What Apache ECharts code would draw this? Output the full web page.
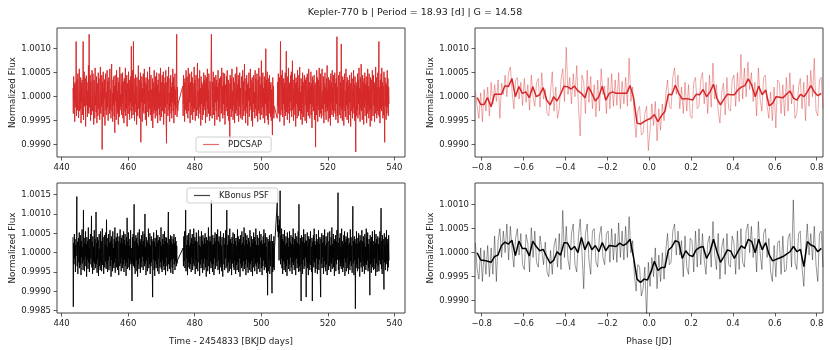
<!DOCTYPE html>
<html>
<head>
<meta charset="utf-8">
<script src="https://cdn.jsdelivr.net/npm/echarts@6/dist/echarts.min.js"></script>
<style>
html, body { margin: 0; padding: 0; background: #fff; }
#chart { width: 830px; height: 350px; }
</style>
</head>
<body>
<div id="chart"></div>
<script>
// flux values are offsets from 1.0, in units of 1e-5
const titleText = 'Kepler-770 b | Period = 18.93 [d] | G = 14.58';

const pdcsapSegments = [[443.4, 475.0], [476.4, 503.9], [504.8, 538.4]];
const pdcsapSeg1 = [
  18,-35,42,-8,25,-52,30,5,-22,115,-40,12,36,-28,48,-15,-44,22,58,-30,
  10,-25,40,-55,28,-12,35,-38,20,115,-48,15,52,-20,-5,38,-62,25,44,-18,
  30,-42,12,-28,65,-35,130,-22,8,45,-50,32,-15,-38,55,20,-30,48,-10,-58,
  35,22,-45,60,-18,5,-32,42,-55,28,15,-40,50,-25,38,-8,-48,26,62,-35,
  12,-20,45,-110,30,-15,52,-42,18,-5,36,-60,24,48,-28,10,-38,55,-22,32,
  -50,20,40,-12,-35,58,-25,15,-45,30,68,-30,8,-52,35,-18,42,-40,22,-75,
  45,-10,28,-48,55,-22,12,-35,40,-58,30,18,-42,62,-28,5,-20,48,-38,25,
  -15,50,-45,32,-8,-55,38,22,-30,60,-40,14,-25,45,-62,28,10,-36,52,-18,
  35,-48,20,-12,42,-30,105,-45,25,-20,55,-38,115,-28,10,-50,38,-15,46,-32,
  22,-58,40,-8,-40,30,65,-25,15,-45,35,-20,50,-95,28,-12,42,-52,18,-30,
  48,-22,-35,58,-15,30,-48,20,40,-60,25,-10,52,-32,12,-42,36,-25,62,-18,
  -38,28,45,-50,15,-22,38,-65,30,8,-35,55,-28,20,-45,42,-12,-30,50,-40,
  25,-55,35,18,-25,48,-38,10,-50,60,-20,30,-42,22,45,-30,-8,52,-58,28,
  15,-35,40,-22,55,-48,-97,30,-15,42,-40,25,62,-28,8,-52,38,-20,45,-35,
  20,-45,30,-12,58,-30,40,-55,22,-18,48,-38,15,-25,35,130,-42,20,-30,-15];
const pdcsapSeg2 = [
  22,-40,45,-15,30,-52,38,-8,-28,55,-35,18,42,-22,-45,60,-30,25,-12,48,
  -55,30,15,-38,52,-20,40,-48,28,-10,-32,62,-25,35,-50,20,45,-18,-40,30,
  70,-28,12,-45,38,-22,55,-35,18,-60,42,-15,30,-48,25,8,-38,50,-28,35,
  -20,45,-55,28,-10,40,-42,58,-25,15,-35,48,-18,-50,32,22,-40,65,130,12,
  -45,30,-22,52,-38,18,40,-60,25,-12,45,-30,35,-48,20,-8,55,-42,28,-25,
  38,-52,15,42,-20,-35,60,-28,22,-45,50,-15,30,-38,48,-58,25,10,-30,42,
  -22,55,-40,18,35,-50,28,-12,-100,45,-25,38,-42,20,58,-30,12,-48,40,-18,
  30,-55,22,48,-35,15,-28,62,-40,25,-10,45,-52,35,-20,50,-38,18,-45,28,
  42,-25,-48,55,-15,32,-40,20,68,-30,12,-55,38,-22,45,-35,25,-60,30,-8,
  50,-42,18,-28,58,-20,35,-50,22,40,-62,28,-15,45,-32,10,-45,55,-25,38,
  -40,20,48,-18,-52,35,-28,60,-35,15,42,-48,25,-12,75,-38,30,-22,50,-45,
  18,-30,42,-55,28,-15,100,-40,35,-25,52,-48,20,-58,38,-10,45,-35,25,-42,
  30,-50,15,-28,-80,40,-35,22,-45,-20];
const pdcsapSeg3 = [
  -45,30,-20,48,-35,15,40,-52,22,115,-38,10,45,-28,55,-42,20,-15,38,-60,
  28,-25,50,-40,12,95,-32,18,-48,42,-20,60,-35,25,-55,30,-10,45,-30,52,
  -42,20,75,-28,35,-50,15,-22,48,-38,28,-62,40,-15,30,-45,55,-20,18,-40,
  45,-30,62,-25,10,-48,38,-35,22,-58,50,-12,30,-42,25,45,-28,-50,35,-18,
  40,-55,20,48,-32,15,-40,58,-25,30,-45,22,-15,52,-38,28,-65,42,-20,35,
  -30,18,45,-48,25,-12,-105,30,-38,55,-20,40,-52,15,35,-28,60,-42,22,-35,
  48,-18,-45,30,58,-25,12,-40,42,-55,28,-15,50,-32,20,-48,38,-22,65,-30,
  15,-52,40,-20,35,-45,25,-60,48,-12,30,-38,55,-28,18,-42,45,-30,22,50,
  -35,28,-48,38,-15,125,-40,20,-55,32,45,-25,-38,52,-20,30,-45,110,-28,15,
  -50,42,-22,35,-60,25,48,-30,12,-42,58,-18,30,-48,40,-25,22,-55,35,-12,
  45,-38,28,-62,20,50,-30,15,-45,38,-22,55,-35,25,-50,42,-18,-115,30,-40,
  22,-28,48,-45,35,-15,60,-38,18,-52,40,-25,68,-30,12,-48,45,-20,30,-58,
  38,-22,50,-40,25,-12,42,-55,30,-35,58,-18,22,-45,48,-30,15,-62,40,-25,
  35,-50,20,55,-28,-40,45,-18,30,-52,25,-35,62,-22,40,-45,18,-30,50,-38,
  28,115,-42,20,-55,35,-25,48,-30,60,-18,30,-45,22,-38,52,-28,-95,40,-20,
  30,-48,25,-35,55,-22,38,-40,20,-15];

const kbonusSegments = [[443.4, 474.8], [476.5, 504.0], [504.8, 538.4]];
const kbonusSeg1 = [
  40,-140,25,-30,48,-15,35,-50,20,-8,42,145,-35,28,-55,12,38,-25,52,-40,
  18,-32,45,-58,30,-12,60,-28,15,-45,110,-20,38,-48,25,-10,55,-35,22,-62,
  40,-18,30,-42,65,-25,12,-50,35,-30,48,-15,20,95,-38,28,-55,42,-22,15,
  -45,58,-28,35,-12,-40,105,-30,25,-52,40,-18,32,-60,22,48,-35,10,-45,55,
  -25,30,-48,18,62,-32,40,-15,-55,28,45,-38,20,-22,52,-42,85,-28,15,-50,
  38,-20,48,-45,25,-10,58,-35,30,-62,42,-18,22,-48,55,-30,12,-40,35,-25,
  65,-52,28,-15,40,-38,20,50,-45,30,-22,-58,42,15,-35,60,-28,25,-48,38,
  -12,45,-40,22,-30,55,-50,32,-18,48,-35,20,-60,40,-25,90,-42,28,-15,52,
  -38,18,-45,35,-22,58,-30,12,-50,-125,40,-28,48,-35,22,125,-40,30,-55,15,
  45,-20,38,-48,25,-62,52,-30,18,-42,60,-15,35,-52,28,-25,45,-38,20,-10,
  55,-45,30,-22,48,-35,100,-28,15,-58,40,-20,32,-48,25,-12,62,-40,22,-30,
  50,-55,18,-35,42,-25,35,-42,-115,30,-18,52,-45,28,-60,38,-22,15,-40,58,
  -30,25,-48,45,-15,32,-55,20,40,-38,28,-25,65,-42,18,-50,35,-20,48,-35,
  22,-45,55,-28,30,-58,40,-12,38,-35,25,-48,50,105,-30,20,-42,35,-25,45,
  -52,28,-18,42,-38,22,-55,35,-15,48,-30,25,-45,40,-22,30,-35,18,-28,-20];
const kbonusSeg2 = [
  12,-35,42,-22,55,-40,28,110,-48,20,-15,45,-58,32,-25,50,-38,18,-42,60,
  -30,25,-50,38,-12,48,-45,22,-28,62,-35,15,40,-55,30,-20,52,-42,28,-10,
  -48,35,58,-25,20,-60,42,-30,15,-40,55,-18,30,-52,45,-28,22,-45,38,-15,
  50,-38,25,-62,40,-20,32,-48,18,65,-35,28,-55,42,-22,30,-40,135,-28,20,
  -50,45,-30,22,-58,38,-15,52,-42,28,-25,48,-35,15,60,-45,30,-20,42,-55,
  25,-38,55,-28,18,-48,40,-22,-62,35,50,-30,22,-45,38,-15,58,-40,28,110,
  -35,20,-52,45,-25,30,-48,62,-18,35,-42,25,-58,40,-28,15,52,-38,22,-45,
  48,-20,30,-55,38,-32,18,-45,60,-25,42,-50,28,-15,35,-62,45,-28,20,-40,
  55,-35,25,-48,40,-22,65,-42,18,-30,50,-58,32,-18,45,-38,22,-52,38,-25,
  28,-45,58,-30,15,-50,42,-22,35,-60,25,-38,52,-15,40,-48,30,-28,62,-35,
  20,-55,45,-25,38,-42,18,-30,55,-50,28,-12,48,-40,32,-58,22,-35,42,-20,
  60,-45,25,-30,50,-38,15,-52,40,-25,-110,35,-48,28,-18,45,-55,30,-35,22,
  48,-42,-105,30,-50,25,-38,42,-45,15];
const kbonusSeg3 = [
  130,55,95,40,70,-20,85,50,160,-30,45,-15,62,-40,35,-55,48,-22,30,-45,
  58,-28,20,-50,42,-35,25,-60,52,-18,38,-42,15,-30,55,-48,28,-12,45,-38,
  22,-55,40,-25,62,-32,18,-45,35,-20,50,-58,30,-15,42,-40,25,-28,55,-50,
  125,-35,20,-48,38,-22,-125,45,-30,28,-55,40,-18,60,-42,25,-35,48,-12,32,
  -115,30,-25,52,-40,18,-58,42,-28,35,-45,22,55,-32,15,-50,38,-125,28,-20,
  45,-38,62,-25,30,-52,20,-42,48,-15,35,-55,28,-30,58,-45,22,-18,40,-62,
  -115,35,-28,50,-40,25,-12,45,-55,30,-22,60,-38,18,-48,42,-30,25,-58,38,
  52,-20,-45,30,-35,55,-25,18,-50,40,-28,65,-42,22,-15,48,-38,30,-60,35,
  -22,45,-48,28,-30,58,-18,40,155,-45,25,-55,38,-20,50,-35,15,-42,62,-28,
  30,-50,22,-38,45,-15,55,-60,28,-25,42,-48,35,-12,52,-40,20,-55,38,-30,
  25,-45,60,-22,40,-35,18,-52,48,120,-28,30,-58,42,-20,35,-145,25,-40,55,
  -30,22,-48,38,-15,50,-42,28,-62,45,-25,32,-38,18,58,-50,30,-22,42,-35,
  25,-55,48,-28,15,-45,62,-32,38,-20,52,-48,22,-40,35,-18,-110,45,-30,28,
  -52,40,-25,55,-38,20,-45,30,-15,58,-42,25,-60,48,-28,35,-50,18,42,-35,
  22,-48,38,-20,55,-30,28,115,-42,30,-55,45,-18,35,-38,-95,50,-25,20,-45,
  40,-30,58,-22,35,-48,25,-38,45,-20];

// phase folded, raw (200 points) and binned (100 bins) over phase -0.83 .. 0.83
const phaseRange = [-0.83, 0.83];
const pdcsapFolded = [12,-20,-45,8,-52,15,-30,20,-40,30, -15,25,-10,35,-45,28,5,45,0,50,
  62,10,-25,35,40,-5,30,-18,38,-12, 25,-28,45,0,-20,30,38,-22,50,-5,
  15,-35,-40,10,52,-30,20,-45,-25,35, 58,-10,103,5,40,-15,48,0,65,-20,
  -82,45,30,-35,55,-12,42,-25,25,-42, 35,-30,58,5,22,-35,40,-25,48,-20,
  35,-18,50,-25,32,-15,40,-20,80,-10, 20,-45,-85,-30,-20,-80,-75,-35,-20,-112,
  -70,-15,-60,-10,-92,-25,-70,-15,-50,5, 35,-20,-25,40,60,5,45,-25,20,-35,
  30,-30,25,-40,-45,30,40,-25,-20,35, 50,-15,30,-35,45,-22,70,-5,25,-30,
  -55,10,28,-38,40,-25,-30,35,45,-20, 50,-10,88,-5,60,0,72,15,50,-10,
  30,-40,60,-5,-30,40,45,-20,-45,10, -50,20,-65,35,30,-35,25,-40,40,-30,
  50,-15,25,-45,-35,20,38,-25,30,-50, 45,-20,55,0,80,-30,-40,35,40,-25];
const pdcsapBinned = [-2,-16,-16,-2,-21,5,5,5,23,21, 38,0,21,7,10,-2,21,0,4,19,
  -7,-17,0,-9,5,22,21,16,22,12, 7,-2,21,7,-9,0,22,-7,7,10,
  7,7,7,7,23,-2,-55,-57,-52,-48, -45,-37,-52,-40,-31,5,4,24,7,-5,
  -4,-5,-7,5,4,15,0,10,26,-4, -17,-5,5,4,4,14,20,23,37,24,
  0,22,4,14,-19,-14,0,-1,-2,5, 12,-3,-7,5,0,10,23,10,2,7];
const kbonusFolded = [20,-35,-55,10,-60,5,-45,15,-50,10, -45,35,-60,25,50,-10,45,0,60,-15,
  55,5,-30,30,50,-5,40,-25,-35,38, 20,-40,52,-10,45,-20,-30,35,35,-25,
  22,-40,-50,5,-45,15,30,-30,40,-35, 88,-10,55,-15,-35,40,60,-25,-40,35,
  70,0,-75,40,60,-15,-45,45,50,-20, -30,35,55,-10,-25,40,45,-20,50,-15,
  40,-20,62,-10,45,-15,55,-10,75,0, 25,-45,-80,-25,-30,-90,-75,-30,-135,-20,
  -70,-10,-50,10,-75,-5,-60,0,-55,5, 40,-25,-20,45,60,-5,45,-5,25,-50,
  35,-30,-45,30,25,-40,45,-30,50,-25, 40,-15,-45,20,35,-30,65,-5,-35,40,
  -55,10,30,-45,40,-25,-30,35,20,-45, 45,-35,50,-20,-30,45,60,0,55,-10,
  30,-40,65,0,-35,40,50,-10,30,-40, -60,15,-50,20,25,-45,35,-40,-35,30,
  40,-30,110,-20,-35,40,45,-30,-70,5, 60,-5,40,-15,55,-25,-60,40,45,-30];
const kbonusBinned = [0,-15,-16,-18,-20,-8,-5,15,22,18, 26,-6,24,9,9,-7,24,13,4,7,
  -8,-22,-16,2,-5,21,20,6,13,0, 32,6,23,6,15,2,21,4,15,14,
  13,20,15,19,28,-10,-55,-62,-55,-57, -40,-18,-37,-31,-31,5,12,25,22,-12,
  4,-5,-8,6,11,13,-12,2,28,2, -20,-8,6,3,-12,2,14,9,28,23,
  0,28,6,21,-4,-17,-14,-11,-8,-3, 2,13,2,7,-29,23,16,13,2,9];

// tick labels
const timeTicks = [440, 460, 480, 500, 520, 540];
const phaseTicks = [-0.8, -0.6, -0.4, -0.2, 0.0, 0.2, 0.4, 0.6, 0.8];
const fluxTicksTop = [0.9990, 0.9995, 1.0000, 1.0005, 1.0010];
const fluxTicksLC2 = [0.9985, 0.9990, 0.9995, 1.0000, 1.0005, 1.0010, 1.0015];

function toFlux(v) { return 1 + v * 1e-5; }

function timeSeries(segs, parts) {
  const out = [];
  parts.forEach((vals, k) => {
    const a = segs[k][0], b = segs[k][1], n = vals.length;
    vals.forEach((v, i) => out.push([a + (b - a) * i / (n - 1), toFlux(v)]));
  });
  return out;
}
function foldedSeries(vals) {
  const n = vals.length, lo = phaseRange[0], hi = phaseRange[1];
  return vals.map((v, i) => [lo + (hi - lo) * i / (n - 1), toFlux(v)]);
}
function binnedSeries(vals) {
  const n = vals.length, lo = phaseRange[0], w = (phaseRange[1] - phaseRange[0]) / n;
  return vals.map((v, i) => [lo + (i + 0.5) * w, toFlux(v)]);
}

const font = 'DejaVu Sans';
const txt = '#222';
const minus = s => s.replace('-', '\u2212');

function xAxis(idx, min, max, ticks, fmt, name) {
  return {
    type: 'value', gridIndex: idx, min: min, max: max,
    axisLine: { show: false, onZero: false },
    splitLine: { show: false },
    axisTick: { show: true, length: 3.5, lineStyle: { color: '#333', width: 0.8 }, customValues: ticks },
    axisLabel: { customValues: ticks, margin: 6, fontSize: 8.5, fontFamily: font, color: txt, formatter: fmt, showMinLabel: true, showMaxLabel: true },
    name: name || '', nameLocation: 'middle', nameGap: 24,
    nameTextStyle: { fontSize: 8.8, fontFamily: font, color: txt }
  };
}
function yAxis(idx, min, max, ticks) {
  return {
    type: 'value', gridIndex: idx, min: min, max: max,
    axisLine: { show: false, onZero: false },
    splitLine: { show: false },
    axisTick: { show: true, length: 3.5, lineStyle: { color: '#333', width: 0.8 }, customValues: ticks },
    axisLabel: { customValues: ticks, margin: 6, fontSize: 8.5, fontFamily: font, color: txt, formatter: v => v.toFixed(4) },
    name: 'Normalized Flux', nameLocation: 'middle', nameGap: 38, nameRotate: 90,
    nameTextStyle: { fontSize: 8.8, fontFamily: font, color: txt }
  };
}

const gridBase = { show: true, borderColor: '#444', borderWidth: 1, backgroundColor: 'transparent', width: 348 };
const fmtTime = v => String(Math.round(v));
const fmtPhase = v => minus(v.toFixed(1));

function legendBox(name, left, top, color) {
  return {
    data: [{ name: name, icon: 'rect', itemStyle: { color: color } }],
    left: left, top: top, itemWidth: 16, itemHeight: 1.2, itemGap: 0,
    textStyle: { fontSize: 8.5, fontFamily: font, color: txt, padding: [0, 0, 0, 4] },
    borderColor: '#d0d0d0', borderWidth: 1, borderRadius: 2, padding: [3, 9, 3, 7],
    backgroundColor: 'rgba(255,255,255,0.8)'
  };
}

const chart = echarts.init(document.getElementById('chart'), null, { renderer: 'canvas' });
chart.setOption({
  animation: false,
  backgroundColor: '#fff',
  title: {
    text: titleText, left: 'center', top: 3,
    textStyle: { fontSize: 9.5, fontWeight: 'normal', fontFamily: font, color: txt }
  },
  grid: [
    Object.assign({ left: 57, top: 28, height: 129 }, gridBase),
    Object.assign({ left: 475, top: 28, height: 129 }, gridBase),
    Object.assign({ left: 57, top: 183, height: 130 }, gridBase),
    Object.assign({ left: 475, top: 183, height: 130 }, gridBase)
  ],
  xAxis: [
    xAxis(0, 438.6, 543.2, timeTicks, fmtTime),
    xAxis(1, -0.832, 0.830, phaseTicks, fmtPhase),
    xAxis(2, 438.6, 543.2, timeTicks, fmtTime, 'Time - 2454833 [BKJD days]'),
    xAxis(3, -0.832, 0.830, phaseTicks, fmtPhase, 'Phase [JD]')
  ],
  yAxis: [
    yAxis(0, 0.998744, 1.001431, fluxTicksTop),
    yAxis(1, 0.998744, 1.001431, fluxTicksTop),
    yAxis(2, 0.99844, 1.0018, fluxTicksLC2),
    yAxis(3, 0.998744, 1.001452, fluxTicksTop)
  ],
  legend: [
    legendBox('PDCSAP', 196, 137, '#e56b6c'),
    legendBox('KBonus PSF', 187, 188, '#444')
  ],
  series: [
    {
      name: 'PDCSAP', type: 'line', xAxisIndex: 0, yAxisIndex: 0, symbol: 'none',
      data: timeSeries(pdcsapSegments, [pdcsapSeg1, pdcsapSeg2, pdcsapSeg3]),
      lineStyle: { color: '#d62728', width: 0.95 }, silent: true
    },
    {
      name: 'pdcsap folded', type: 'line', xAxisIndex: 1, yAxisIndex: 1, symbol: 'none',
      data: foldedSeries(pdcsapFolded),
      lineStyle: { color: '#d62728', width: 0.8, opacity: 0.5 }, silent: true
    },
    {
      name: 'pdcsap binned', type: 'line', xAxisIndex: 1, yAxisIndex: 1, symbol: 'none',
      data: binnedSeries(pdcsapBinned),
      lineStyle: { color: '#d62728', width: 1.5 }, silent: true
    },
    {
      name: 'KBonus PSF', type: 'line', xAxisIndex: 2, yAxisIndex: 2, symbol: 'none',
      data: timeSeries(kbonusSegments, [kbonusSeg1, kbonusSeg2, kbonusSeg3]),
      lineStyle: { color: '#000', width: 0.9 }, silent: true
    },
    {
      name: 'kbonus folded', type: 'line', xAxisIndex: 3, yAxisIndex: 3, symbol: 'none',
      data: foldedSeries(kbonusFolded),
      lineStyle: { color: '#000', width: 0.8, opacity: 0.5 }, silent: true
    },
    {
      name: 'kbonus binned', type: 'line', xAxisIndex: 3, yAxisIndex: 3, symbol: 'none',
      data: binnedSeries(kbonusBinned),
      lineStyle: { color: '#000', width: 1.5 }, silent: true
    }
  ]
});
</script>
</body>
</html>
